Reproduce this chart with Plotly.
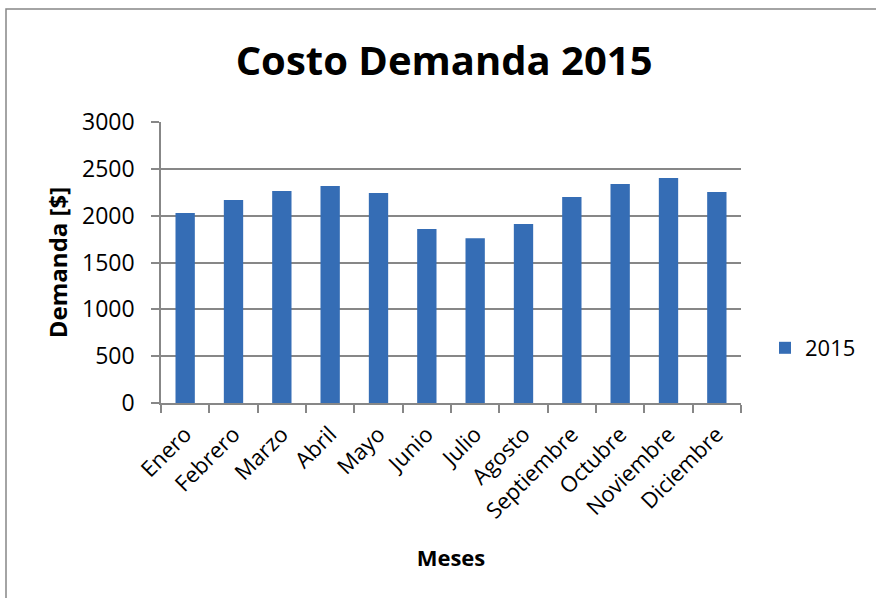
import plotly.graph_objects as go

meses = ["Enero", "Febrero", "Marzo", "Abril", "Mayo", "Junio", "Julio",
         "Agosto", "Septiembre", "Octubre", "Noviembre", "Diciembre"]
demanda_2015 = [2028, 2167, 2263, 2316, 2242, 1857, 1760, 1910, 2199, 2338, 2402, 2252]
y_ticks = [0, 500, 1000, 1500, 2000, 2500, 3000]

FONT = "Open Sans"
GRAY = "#878787"

W, H = 876, 598
L, R, T, B = 161, 135, 122, 195
pw, ph = W - L - R, H - T - B

def px_x(x):
    return (x - L) / pw

def px_y(y):
    return (H - B - y) / ph

fig = go.Figure()
fig.add_trace(go.Bar(
    x=meses, y=demanda_2015, name="2015",
    marker=dict(color="#356db5", line=dict(width=0)),
))

fig.update_layout(
    width=W, height=H,
    margin=dict(l=L, r=R, t=T, b=B, autoexpand=False),
    paper_bgcolor="white", plot_bgcolor="white",
    font=dict(family=FONT, color="black", size=22),
    bargap=0.6,
    title=dict(text="<b>Costo Demanda 2015</b>", x=0.507, xanchor="center",
               y=1 - 61 / H, yanchor="middle", yref="container",
               font=dict(family=FONT, size=40, color="black")),
    showlegend=True,
    legend=dict(x=px_x(765), xanchor="left", y=px_y(348), yanchor="middle",
                font=dict(family=FONT, size=22, color="black"),
                bgcolor="rgba(0,0,0,0)"),
    xaxis=dict(
        title=dict(text="<b>Meses</b>", font=dict(family=FONT, size=22), standoff=27),
        tickangle=-45, tickson="boundaries", ticks="outside", ticklen=8,
        tickcolor=GRAY, tickwidth=1.5, ticklabelstandoff=8,
        showline=True, linecolor=GRAY, linewidth=1.5,
        showgrid=False, tickfont=dict(family=FONT, size=22),
    ),
    yaxis=dict(
        title=dict(text="<b>Demanda [$]</b>", font=dict(family=FONT, size=24), standoff=8),
        range=[0, 3000], tickvals=y_ticks, ticks="outside", ticklen=8,
        tickcolor=GRAY, tickwidth=1.5, ticklabelstandoff=12,
        showline=True, linecolor=GRAY, linewidth=1.5,
        showgrid=True, gridcolor=GRAY, gridwidth=1.5,
        zeroline=False, tickfont=dict(family=FONT, size=23),
    ),
    shapes=[dict(type="rect", xref="paper", yref="paper",
                 x0=px_x(6), x1=px_x(900), y0=px_y(640), y1=px_y(9),
                 line=dict(color=GRAY, width=1.5), fillcolor="rgba(0,0,0,0)",
                 layer="below")],
)

fig.write_html("out.html", config={"displayModeBar": False},
               post_script="document.body.style.margin='0px';document.body.style.overflow='hidden';")
